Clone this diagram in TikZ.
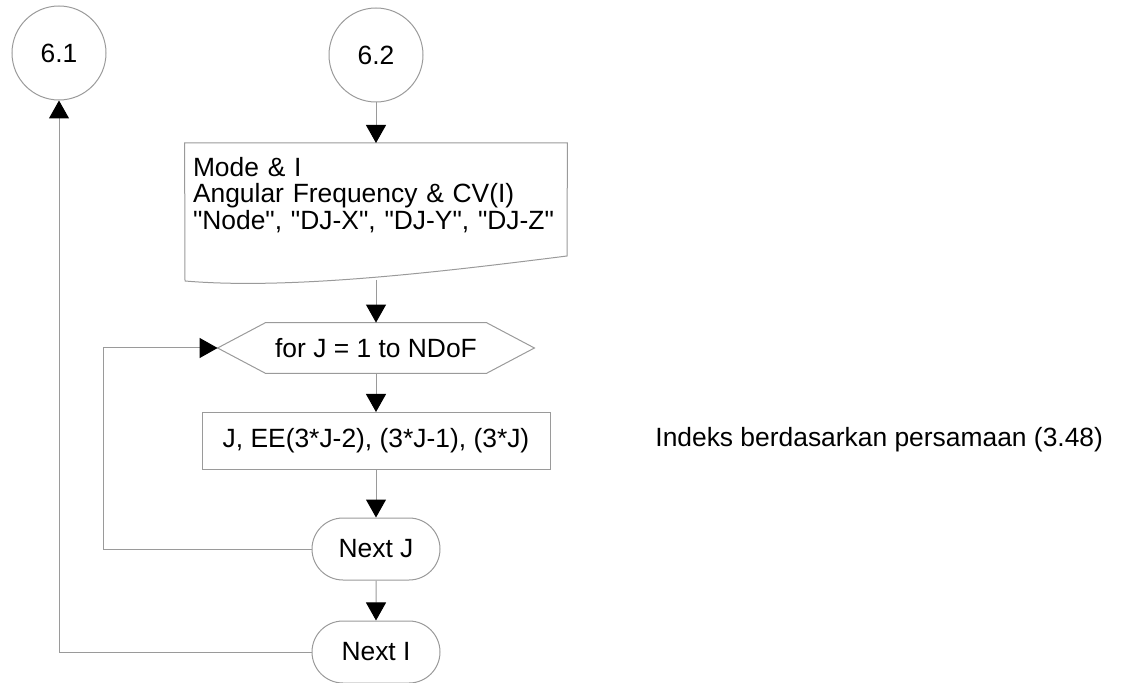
\documentclass[tikz,border=0pt]{standalone}
\usepackage{fontspec}
\newfontfamily\flowfont{Liberation Sans}
\usetikzlibrary{arrows.meta,shapes.misc}
\definecolor{edge}{HTML}{9A9A9A}
\tikzset{
  txt/.style={font=\flowfont\fontsize{13.2pt}{13.3pt}\selectfont, inner sep=0pt},
  conn/.style={txt, draw=edge, circle, minimum size=47pt, line width=0.5pt},
  docbox/.style={txt, anchor=north, text width=183pt, align=left, inner xsep=4pt, inner ysep=6.75pt},
  loopbox/.style={txt, minimum width=110pt, minimum height=25pt},
  procbox/.style={txt, draw=edge, line width=0.5pt, minimum width=174pt, minimum height=28.5pt},
  term/.style={txt, draw=edge, line width=0.5pt, rounded rectangle, minimum width=64pt, minimum height=31pt},
  line/.style={draw=edge, line width=0.5pt},
  arr/.style={line, -{Triangle[length=9pt,width=10pt,color=black,fill=black]}},
  note/.style={txt, anchor=west}
}
\begin{document}
\begin{tikzpicture}[x=0.5pt, y=-0.5pt]
\useasboundingbox (0,0) rectangle (1123,683);
% connectors
\node[conn] (c61) at (59,53) {6.1};
\node[conn] (c62) at (376,55) {6.2};
% output block
\node[docbox] (doc) at (376,143) {Mode \& I\\Angular Frequency \& CV(I)\\"Node", "DJ-X", "DJ-Y", "DJ-Z"};
\draw[line] (doc.north west) -- (doc.north east) -- (567,256)
  .. controls (440,272) and (290,290) .. (185,281) -- cycle;
\coordinate (docb) at (376,280);
% loop over J
\node[loopbox] (hex) at (376,348) {for J = 1 to NDoF};
\draw[line] (hex.north west) -- (hex.north east) -- ([xshift=24pt]hex.east)
  -- (hex.south east) -- (hex.south west) -- ([xshift=-24pt]hex.west) -- cycle;
\coordinate (hexw) at ([xshift=-24pt]hex.west);
\node[procbox] (proc) at (376,441) {J, EE(3*J-2), (3*J-1), (3*J)};
\node[note] (idx) at (655,440) {Indeks berdasarkan persamaan (3.48)};
\node[term] (nj) at (376,549) {Next J};
\node[term] (ni) at (376,652) {Next I};
\draw[arr] (c62) -- (doc);
\draw[arr] (docb) -- (hex);
\draw[arr] (hex) -- (proc);
\draw[arr] (proc) -- (nj);
\draw[arr] (nj) -- (ni);
\draw[arr] (nj.west) -- ++(-208,0) |- (hexw);
\draw[arr] (ni.west) -| (c61);
\end{tikzpicture}
\end{document}
